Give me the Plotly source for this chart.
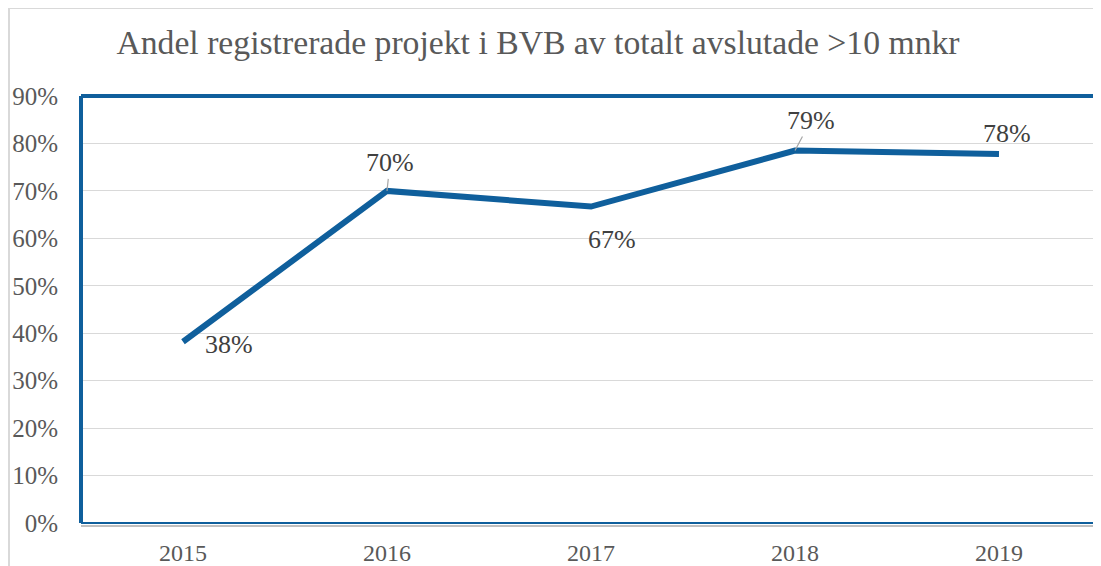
import plotly.graph_objects as go

years = ["2015", "2016", "2017", "2018", "2019"]
share = [0.382, 0.70, 0.667, 0.785, 0.778]
labels = ["38%", "70%", "67%", "79%", "78%"]
label_dx = [46, 3, 21, 16, 8]
label_dy = [3, -28, 33, -30, -20]
leader = [False, True, False, True, False]
y_ticks = [0, 0.1, 0.2, 0.3, 0.4, 0.5, 0.6, 0.7, 0.8, 0.9]
y_ticktext = ["0%", "10%", "20%", "30%", "40%", "50%", "60%", "70%", "80%", "90%"]

LINE = "#0F5F9C"
TXT = "#595959"
FONT = "Liberation Serif"

# page body has an 8px margin; figure coordinates = screen - 8
OFF = 8
W, H = 1101 - OFF, 566 - OFF
L, R, T = 81 - OFF, 0, 96 - OFF
B = H - (523 - OFF)
pw = W - L - R
ph = H - T - B

def px(xs):
    return (xs - OFF - L) / pw

def py(ys):
    return (H - B - (ys - OFF)) / ph

fig = go.Figure()
fig.add_trace(go.Scatter(
    x=list(range(len(years))), y=share, mode="lines",
    line=dict(color=LINE, width=6), hoverinfo="skip", showlegend=False,
))

for i, (v, t) in enumerate(zip(share, labels)):
    fig.add_annotation(
        x=i, y=v, xref="x", yref="y", text=t,
        showarrow=True, ax=label_dx[i], ay=label_dy[i],
        arrowhead=0, arrowwidth=1.2,
        arrowcolor="#A6A6A6" if leader[i] else "rgba(0,0,0,0)",
        font=dict(family=FONT, size=26, color="#404040"),
    )

shapes = [
    # outer chart border (light gray)
    dict(type="line", xref="paper", yref="paper", x0=px(9), x1=px(9), y0=py(8), y1=py(566),
         line=dict(color="#D9D9D9", width=2)),
    dict(type="line", xref="paper", yref="paper", x0=px(9), x1=px(1101), y0=py(8), y1=py(8),
         line=dict(color="#D9D9D9", width=2)),
    # bottom lines
    dict(type="line", xref="paper", yref="paper", x0=0, x1=1, y0=py(526), y1=py(526),
         line=dict(color="#BFBFBF", width=2)),
    dict(type="line", xref="paper", yref="paper", x0=0, x1=1, y0=0, y1=0,
         line=dict(color=LINE, width=2)),
    # right border
    dict(type="line", xref="paper", yref="paper", x0=px(1099), x1=px(1099), y0=0, y1=1,
         line=dict(color=LINE, width=2)),
    # top & left thick borders
    dict(type="line", xref="paper", yref="paper", x0=0, x1=1, y0=1, y1=1,
         line=dict(color=LINE, width=4)),
    dict(type="line", xref="paper", yref="paper", x0=0, x1=0, y0=0, y1=1,
         line=dict(color=LINE, width=4)),
]

fig.update_layout(
    width=W, height=H,
    margin=dict(l=L, r=R, t=T, b=B, autoexpand=False),
    paper_bgcolor="white", plot_bgcolor="white",
    title=dict(text="Andel registrerade projekt i BVB av totalt avslutade >10 mnkr",
               x=(538 - OFF) / W, xref="container", xanchor="center",
               y=1 - (42 - OFF) / H, yref="container", yanchor="middle",
               font=dict(family=FONT, size=33.7, color=TXT)),
    xaxis=dict(range=[-0.5, 4.5], tickmode="array", tickvals=list(range(len(years))),
               ticktext=years, showgrid=False, zeroline=False, showline=False,
               tickfont=dict(family=FONT, size=24, color=TXT), ticklabelstandoff=13,
               automargin=False, fixedrange=True),
    yaxis=dict(range=[0, 0.9], tickmode="array", tickvals=y_ticks, ticktext=y_ticktext,
               showgrid=True, gridcolor="#D9D9D9", gridwidth=1, zeroline=False,
               showline=False, tickfont=dict(family=FONT, size=25, color=TXT),
               ticklabelstandoff=22, automargin=False, fixedrange=True),
    shapes=shapes,
)

fig.write_html("out.html")
